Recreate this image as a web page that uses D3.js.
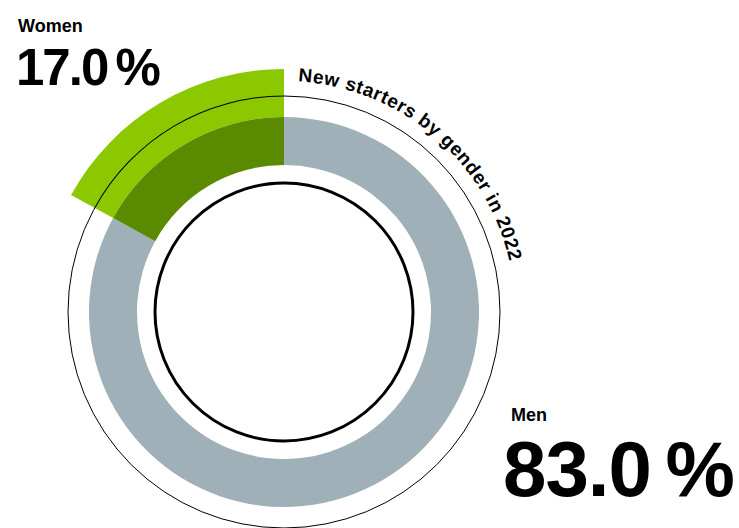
<!DOCTYPE html>
<html lang="en">
<head>
    <meta charset="UTF-8"/>
    <title>New starters by gender in 2022</title>
    <script src="https://d3js.org/d3.v7.min.js"></script>
    <style>
        body { margin: 0; background: #fff; }
        svg text { font-family: "Liberation Sans", Arial, sans-serif; font-weight: bold; fill: #000; }
    </style>
</head>
<body>
    <script>
        // data
        var categories = ["Women", "Men"];
        var shares = [17.0, 83.0];
        var title = "New starters by gender in 2022";

        var w = 739;
        var h = 528;
        var cx = 284, cy = 312;

        var svg = d3.select("body")
            .append("svg")
            .attr("width", w)
            .attr("height", h);

        var g = svg.append("g")
            .attr("transform", "translate(" + cx + "," + cy + ")");

        // counter-clockwise from 12 o'clock, women first
        var pie = d3.pie().sort(null)
            .startAngle(0)
            .endAngle(-2 * Math.PI);
        var slices = pie(shares);

        // thin outer ring
        g.append("circle")
            .attr("r", 216)
            .attr("fill", "none")
            .attr("stroke", "#000")
            .attr("stroke-width", 1);

        var bandArc = d3.arc().innerRadius(147).outerRadius(195);
        var outerArc = d3.arc().innerRadius(195).outerRadius(243);

        // men: gray band
        g.append("path")
            .datum(slices[1])
            .attr("d", bandArc)
            .attr("fill", "#a0b0b8");

        // women: light green outside the band, dark green inside
        g.append("path")
            .datum(slices[0])
            .attr("d", outerArc)
            .attr("fill", "#8cc800");
        g.append("path")
            .datum(slices[0])
            .attr("d", bandArc)
            .attr("fill", "#5a8a00");

        // thin ring shows over the green part too
        g.append("path")
            .datum(slices[0])
            .attr("d", d3.arc().innerRadius(215.5).outerRadius(216.5))
            .attr("fill", "#000");

        // inner circle
        g.append("circle")
            .attr("r", 129)
            .attr("fill", "none")
            .attr("stroke", "#000")
            .attr("stroke-width", 3);

        // curved title
        var tr = 231;
        var a0 = 3.5 * Math.PI / 180;
        g.append("path")
            .attr("id", "titlePath")
            .attr("fill", "none")
            .attr("d", "M" + (tr * Math.sin(a0)) + "," + (-tr * Math.cos(a0)) +
                " A" + tr + "," + tr + " 0 0,1 " + tr * Math.sin(Math.PI * 0.6) + "," + (-tr * Math.cos(Math.PI * 0.6)));
        g.append("text")
            .attr("font-size", 19)
            .attr("letter-spacing", 0.6)
            .append("textPath")
            .attr("href", "#titlePath")
            .text(title);

        // labels
        var fmt = function(v) { return v.toFixed(1) + "\u2009%"; };

        svg.append("text")
            .attr("x", 18).attr("y", 32)
            .attr("font-size", 18)
            .text(categories[0]);
        svg.append("text")
            .attr("x", 16).attr("y", 85)
            .attr("font-size", 51)
            .attr("letter-spacing", -2)
            .text(fmt(shares[0]));

        svg.append("text")
            .attr("x", 511).attr("y", 421)
            .attr("font-size", 18)
            .text(categories[1]);
        svg.append("text")
            .attr("x", 503).attr("y", 496)
            .attr("font-size", 78)
            .attr("letter-spacing", -1)
            .text(fmt(shares[1]));
    </script>
</body>
</html>
